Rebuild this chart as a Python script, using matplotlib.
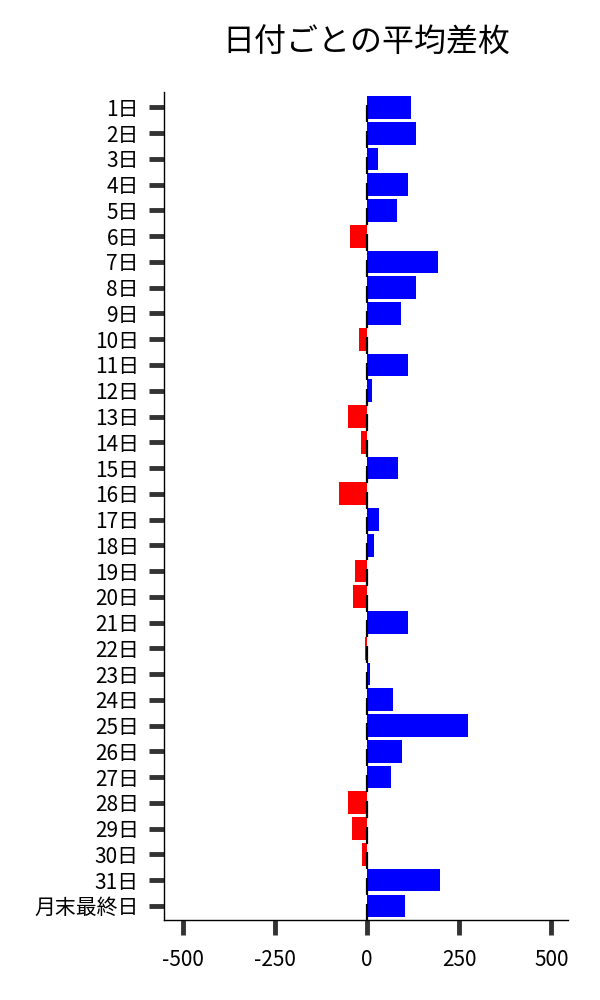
import matplotlib
matplotlib.use('Agg')
import matplotlib.pyplot as plt
import numpy as np

plt.rcParams['font.family'] = ['Noto Sans CJK JP', 'DejaVu Sans']

days = [f'{i}日' for i in range(1, 32)] + ['月末最終日']
avg_diff = [119, 133, 30, 111, 81, -46, 193, 133, 92, -22,
            111, 13, -52, -16, 84, -76, 33, 19, -32, -38,
            111, -4, 8, 71, 274, 95, 65, -52, -40, -14,
            198, 103]

x_ticks = [-500, -250, 0, 250, 500]


def plot_avg_diff():
    fig = plt.figure(figsize=(6, 10), dpi=100)
    ax = fig.add_axes([0.273, 0.08, 0.674, 0.828])
    pos = np.arange(len(days))
    vals = np.array(avg_diff)
    colors = ['#0000ff' if v >= 0 else '#ff0000' for v in vals]
    ax.barh(pos, vals, height=0.88, color=colors)
    # small zero marks under each bar
    ax.vlines(np.zeros(len(pos)), pos - 0.08, pos + 0.58, color='black', linewidth=1.6)

    ax.set_yticks(pos)
    ax.set_yticklabels(days, fontsize=15)
    ax.set_xticks(x_ticks)
    ax.set_xticklabels([str(t) for t in x_ticks], fontsize=15)
    ax.set_xlim(-551, 546)
    ax.set_ylim(len(days) - 0.45, -0.6)
    ax.tick_params(axis='both', length=11, width=3.5, color='#333333')
    ax.tick_params(axis='y', pad=7)
    ax.tick_params(axis='x', pad=10)

    for side in ['top', 'right']:
        ax.spines[side].set_visible(False)
    for side in ['left', 'bottom']:
        ax.spines[side].set_linewidth(1.0)
        ax.spines[side].set_color('black')

    fig.text(0.61, 0.957, '日付ごとの平均差枚', fontsize=23, ha='center', va='center')
    fig.savefig('out.png', dpi=100)


plot_avg_diff()
